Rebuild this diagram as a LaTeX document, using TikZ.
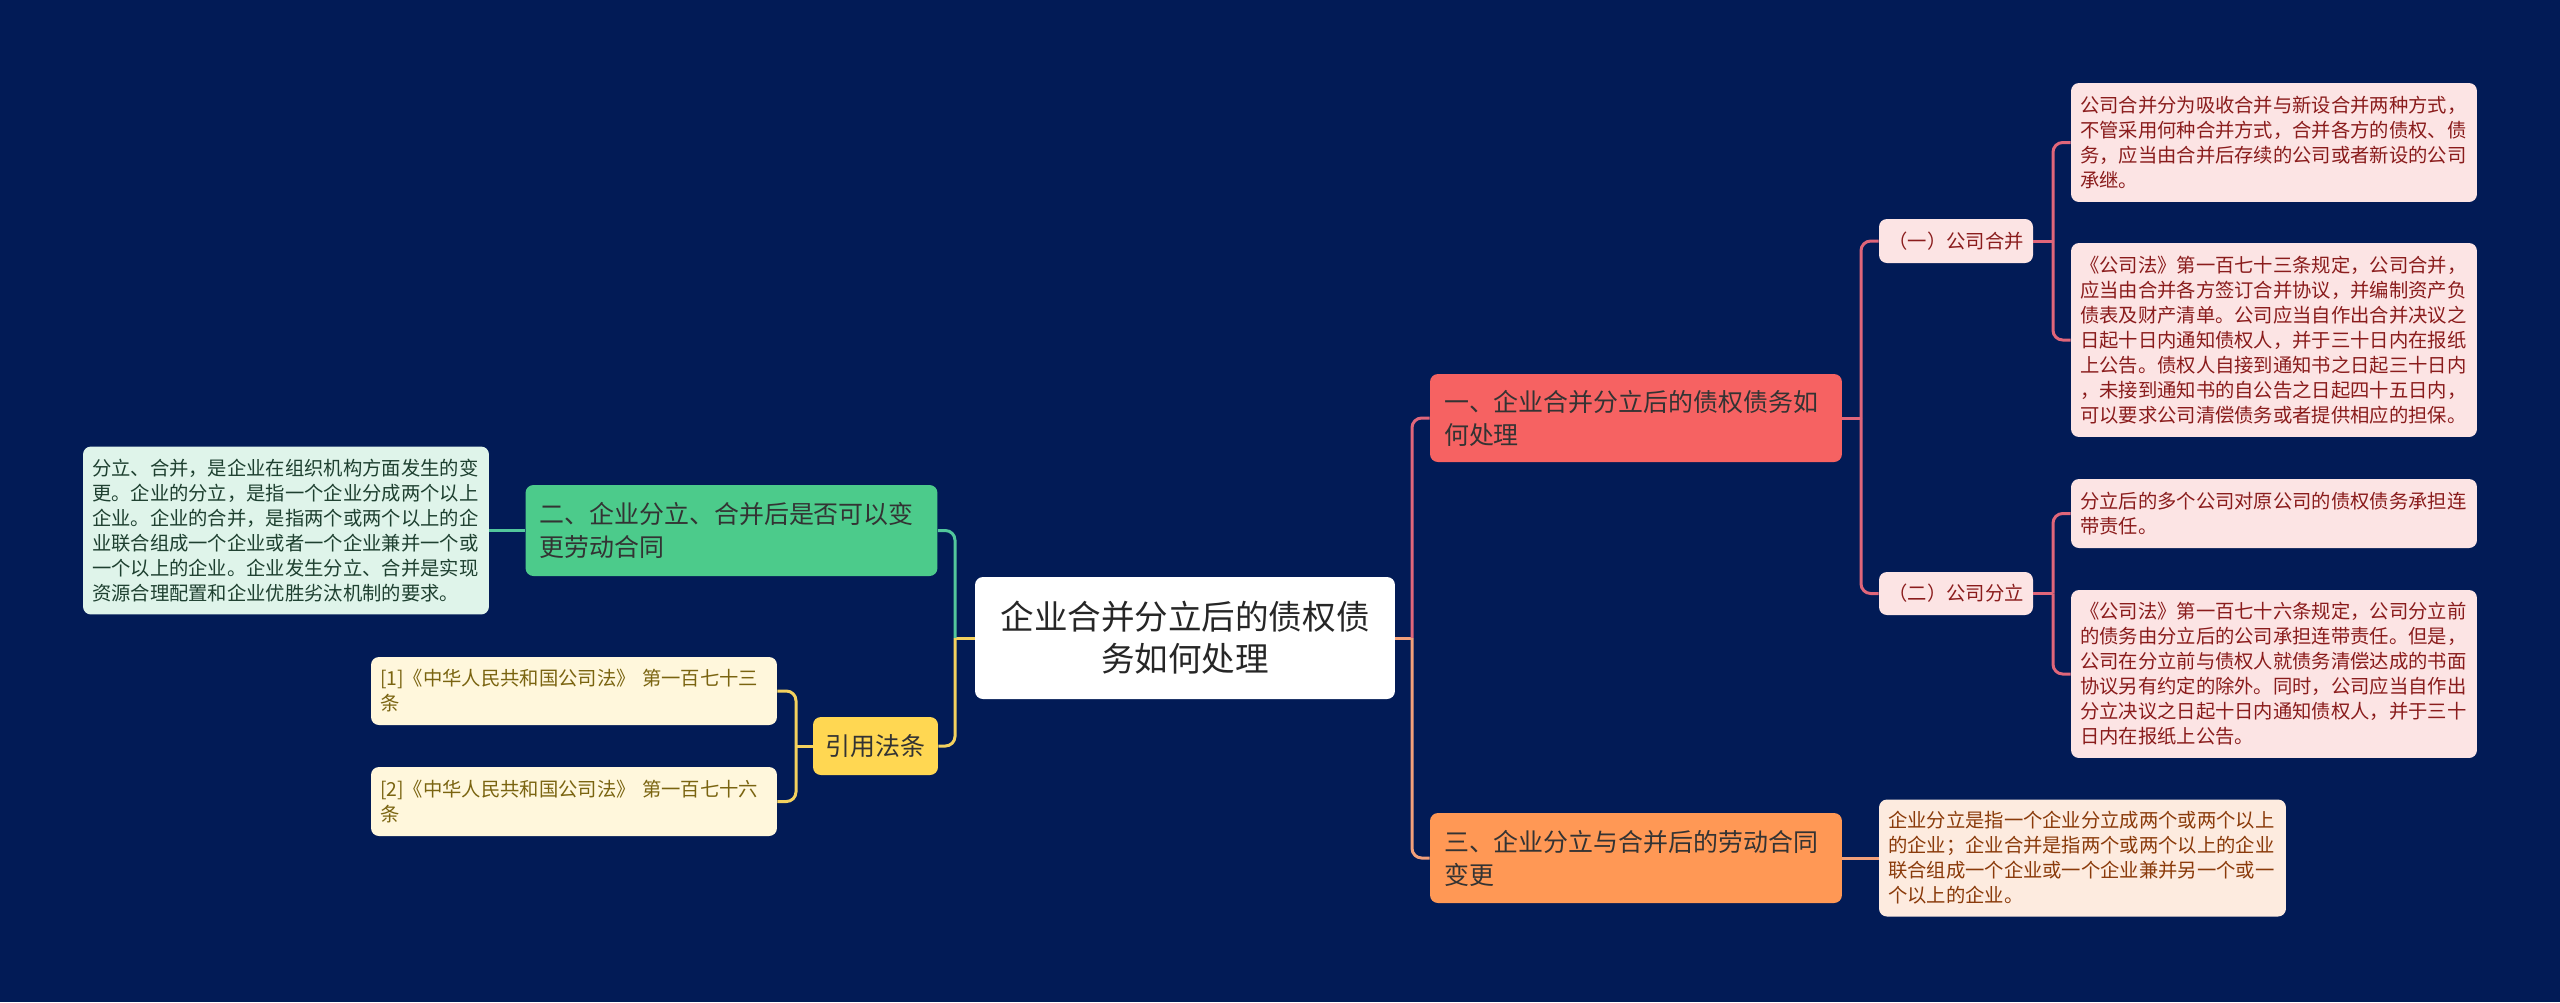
\documentclass[tikz,border=0pt]{standalone}
\usepackage{fontspec}
\setmainfont{Noto Sans CJK SC}
\definecolor{cbg}{HTML}{021B56}
\definecolor{cred}{HTML}{F66262}
\definecolor{credline}{HTML}{E0667A}
\definecolor{credlight}{HTML}{FCE4E4}
\definecolor{credtext}{HTML}{8A1C1C}
\definecolor{corange}{HTML}{FF9855}
\definecolor{corangeline}{HTML}{F2A07A}
\definecolor{corangelight}{HTML}{FDEBDF}
\definecolor{corangetext}{HTML}{8A3A0A}
\definecolor{cgreen}{HTML}{4CCB8B}
\definecolor{cgreenline}{HTML}{52C79C}
\definecolor{cgreenlight}{HTML}{DFF4EA}
\definecolor{cgreentext}{HTML}{1E4030}
\definecolor{cyellow}{HTML}{FFD752}
\definecolor{cyellowline}{HTML}{F3D15E}
\definecolor{cyellowlight}{HTML}{FFF7DC}
\definecolor{cyellowtext}{HTML}{7A6410}
\tikzset{
  root/.style={fill=white, text=black!85, rounded corners=4.5pt, align=center, inner sep=0pt,
    font=\fontsize{19.1pt}{23.9pt}\selectfont, minimum width=8.4cm, minimum height=2.44cm},
  topic/.style 2 args={fill=#1, text=#2, rounded corners=4.5pt, align=left, inner xsep=0.28cm, inner ysep=0pt,
    font=\fontsize{14.2pt}{18.8pt}\selectfont, text width=7.68cm},
  sub/.style={fill=credlight, text=credtext, rounded corners=4.5pt, align=center, inner sep=0pt,
    font=\fontsize{11pt}{14.2pt}\selectfont, minimum width=3.08cm},
  leaf/.style 2 args={fill=#1, text=#2, rounded corners=4.5pt, align=left, inner xsep=0.18cm, inner ysep=0pt,
    font=\fontsize{11pt}{14.2pt}\selectfont, text width=7.76cm},
  link/.style={draw=#1, line width=1.7pt, rounded corners=5.5pt},
}
\begin{document}
\begin{tikzpicture}[x=0.02cm, y=-0.02cm]
  \fill[cbg] (0,0) rectangle (2560,1002);
  % ---------- centre ----------
  \node[root] (root) at (1185, 638) {企业合并分立后的债权债\\务如何处理};
  \node[topic={cred}{black!80}, minimum height=1.76cm] (t1) at (1636, 418) {一、企业合并分立后的债权债务如\\何处理};
  \node[topic={corange}{black!80}, minimum height=1.8cm] (t3) at (1636, 858) {三、企业分立与合并后的劳动合同\\变更};
  \node[topic={cgreen}{black!80}, minimum height=1.82cm] (t2) at (731.5, 530.5) {二、企业分立、合并后是否可以变\\更劳动合同};
  \node[topic={cyellow}{black!80}, text width=, align=center, inner sep=0pt, minimum width=2.5cm, minimum height=1.16cm] (tref) at (875.5, 746) {引用法条};
  \coordinate (rspine) at (1412, 638);
  \coordinate (lspine) at (955, 638);
  \draw[link=corangeline] (root.east) -- (rspine);
  \draw[link=credline] (rspine) |- (t1.west);
  \draw[link=corangeline] (rspine) |- (t3.west);
  \draw[link=cyellowline] (root.west) -- (lspine);
  \draw[link=cgreenline] (lspine) |- (t2.east);
  \draw[link=cyellowline] (lspine) |- (tref.east);
  % ---------- branch one ----------
  \node[sub, minimum height=0.88cm] (s1) at (1956, 241) {（一）公司合并};
  \node[sub, minimum height=0.86cm] (s2) at (1956, 593.5) {（二）公司分立};
  \coordinate (t1spine) at (1861, 418);
  \draw[link=credline] (t1.east) -- (t1spine);
  \draw[link=credline] (t1spine) |- (s1.west);
  \draw[link=credline] (t1spine) |- (s2.west);
  \node[leaf={credlight}{credtext}, minimum height=2.38cm] (m1) at (2274, 142.5) {公司合并分为吸收合并与新设合并两种方式，\\不管采用何种合并方式，合并各方的债权、债\\务，应当由合并后存续的公司或者新设的公司\\承继。};
  \node[leaf={credlight}{credtext}, minimum height=3.88cm] (m2) at (2274, 340) {《公司法》第一百七十三条规定，公司合并，\\应当由合并各方签订合并协议，并编制资产负\\债表及财产清单。公司应当自作出合并决议之\\日起十日内通知债权人，并于三十日内在报纸\\上公告。债权人自接到通知书之日起三十日内\\，未接到通知书的自公告之日起四十五日内，\\可以要求公司清偿债务或者提供相应的担保。};
  \node[leaf={credlight}{credtext}, minimum height=1.38cm] (p1) at (2274, 513.5) {分立后的多个公司对原公司的债权债务承担连\\带责任。};
  \node[leaf={credlight}{credtext}, minimum height=3.36cm] (p2) at (2274, 674) {《公司法》第一百七十六条规定，公司分立前\\的债务由分立后的公司承担连带责任。但是，\\公司在分立前与债权人就债务清偿达成的书面\\协议另有约定的除外。同时，公司应当自作出\\分立决议之日起十日内通知债权人，并于三十\\日内在报纸上公告。};
  \coordinate (s1spine) at (2053, 241);
  \coordinate (s2spine) at (2053, 593.5);
  \draw[link=credline] (s1.east) -- (s1spine);
  \draw[link=credline] (s1spine) |- (m1.west);
  \draw[link=credline] (s1spine) |- (m2.west);
  \draw[link=credline] (s2.east) -- (s2spine);
  \draw[link=credline] (s2spine) |- (p1.west);
  \draw[link=credline] (s2spine) |- (p2.west);
  % ---------- branch three ----------
  \node[leaf={corangelight}{corangetext}, minimum height=2.34cm, text width=7.78cm] (n3) at (2082.5, 858) {企业分立是指一个企业分立成两个或两个以上\\的企业；企业合并是指两个或两个以上的企业\\联合组成一个企业或一个企业兼并另一个或一\\个以上的企业。};
  \draw[link=corangeline] (t3.east) -- (n3.west);
  % ---------- branch two ----------
  \node[leaf={cgreenlight}{cgreentext}, minimum height=3.36cm] (n2) at (286, 530.5) {分立、合并，是企业在组织机构方面发生的变\\更。企业的分立，是指一个企业分成两个以上\\企业。企业的合并，是指两个或两个以上的企\\业联合组成一个企业或者一个企业兼并一个或\\一个以上的企业。企业发生分立、合并是实现\\资源合理配置和企业优胜劣汰机制的要求。};
  \draw[link=cgreenline] (t2.west) -- (n2.east);
  % ---------- references ----------
  \coordinate (rfspine) at (796, 746);
  \draw[link=cyellowline] (tref.west) -- (rfspine);
  \foreach \n/\y/\h/\art in {1/691/1.36cm/三, 2/801.5/1.38cm/六} {
    \node[leaf={cyellowlight}{cyellowtext}, minimum height=\h] (r\n) at (574, \y) {[\n]《中华人民共和国公司法》 第一百七十\art\\条};
    \draw[link=cyellowline] (rfspine) |- (r\n.east);
  }
\end{tikzpicture}
\end{document}
